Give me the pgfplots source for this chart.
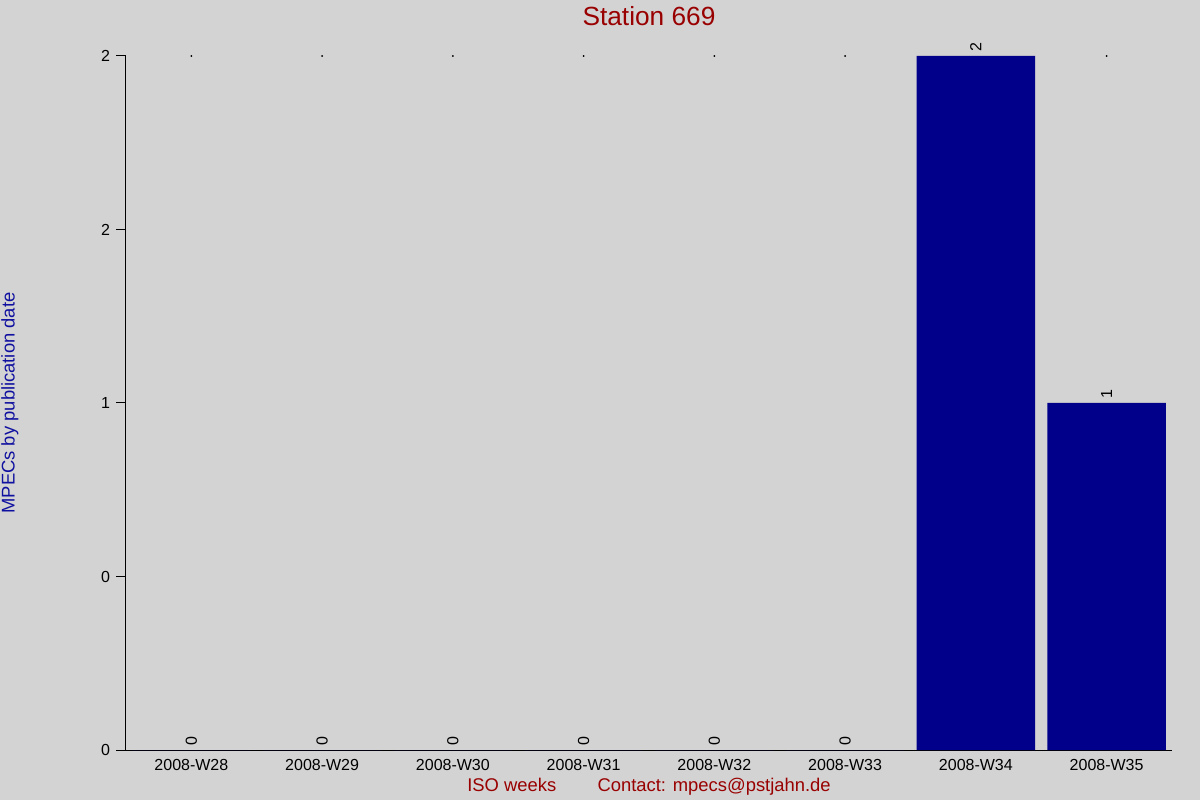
\documentclass[border=0pt]{standalone}
\usepackage{pgfplots}
\pgfplotsset{compat=1.18}
\usepackage{fontspec}
\setmainfont{Liberation Sans}
\definecolor{bg}{HTML}{D3D3D3}
\definecolor{barblue}{HTML}{00008B}
\definecolor{titlered}{HTML}{990000}
\definecolor{labelblue}{HTML}{1010A0}

\pgfplotstableread{
x week value
0 2008-W28 0
1 2008-W29 0
2 2008-W30 0
3 2008-W31 0
4 2008-W32 0
5 2008-W33 0
6 2008-W34 2
7 2008-W35 1
}\weeks

\begin{document}
\begin{tikzpicture}
\path[fill=bg, use as bounding box] (0,0) rectangle (900pt,600pt);
\begin{axis}[
    at={(94.5pt,37.5pt)}, anchor=south west,
    scale only axis,
    width=784.5pt, height=520.5pt,
    xmin=-0.5, xmax=7.5,
    ymin=0, ymax=2,
    axis x line*=bottom,
    axis y line*=left,
    axis line style={black, line width=0.75pt, -},
    xtick=data,
    xticklabels={2008-W28,2008-W29,2008-W30,2008-W31,2008-W32,2008-W33,2008-W34,2008-W35},
    x tick style={draw=none},
    ytick={0,0.5,1,1.5,2},
    yticklabels={0,0,1,2,2},
    y tick style={black, line width=0.75pt},
    tick align=outside,
    major tick length=7.5pt,
    tick label style={font=\fontsize{12}{14}\selectfont, black},
    xticklabel style={yshift=4pt},
    yticklabel style={xshift=-1pt},
    /pgf/number format/assume math mode=true,
    title={Station 669},
    title style={at={(axis description cs:0.5,1)}, anchor=center, yshift=24pt,
        font=\fontsize{19.7}{22}\selectfont, text=titlered},
    ylabel={MPECs by publication date},
    ylabel style={at={(axis description cs:-0.111,0.5)}, anchor=center,
        font=\fontsize{13.8}{16}\selectfont, text=labelblue},
    xlabel={ISO weeks\hspace{31pt}Contact: mpecs@pstjahn.de},
    xlabel style={at={(axis description cs:0.5,0)}, anchor=center, yshift=-27.5pt,
        font=\fontsize{13.8}{16}\selectfont, text=titlered},
    clip=false,
]
\addplot[ybar, bar width=89pt, fill=barblue, draw=none,
    nodes near coords,
    nodes near coords style={rotate=90, anchor=west, font=\fontsize{12}{14}\selectfont, black, inner sep=3pt}]
    table[x=x, y=value] {\weeks};
\addplot[only marks, mark=*, mark size=0.4pt, black] coordinates {
    (0,2) (1,2) (2,2) (3,2) (4,2) (5,2) (7,2)};
\end{axis}
\end{tikzpicture}
\end{document}
